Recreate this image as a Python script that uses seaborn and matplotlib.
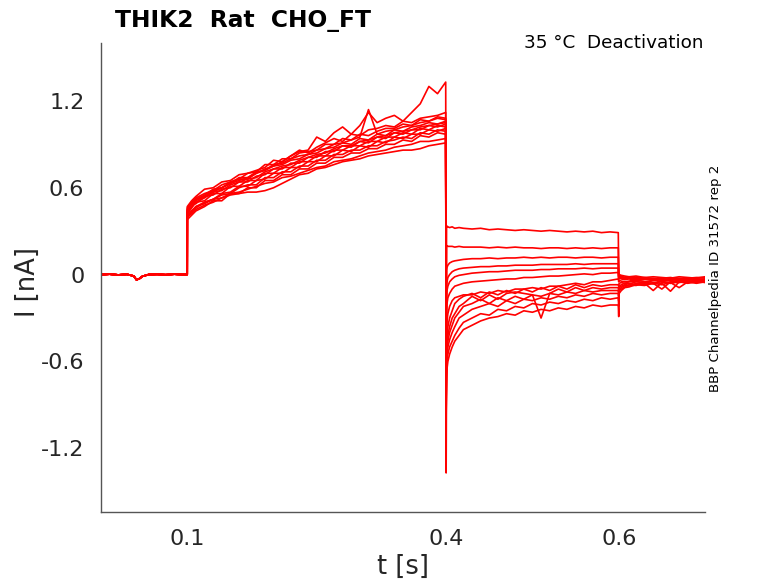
#Librerias
import pandas as pd
import matplotlib
matplotlib.use("Agg")
import matplotlib.pyplot as plt
import seaborn as sns

#Datos (corriente en nA, tiempo en s)
t_hold = [0.0, 0.01, 0.02, 0.03, 0.038, 0.041, 0.044, 0.048, 0.055, 0.065, 0.075, 0.085, 0.095, 0.0999]
i_hold = [0.0, 0.003, -0.002, 0.002, -0.01, -0.035, -0.03, -0.012, 0.0, 0.002, -0.001, 0.003, 0.0, 0.001]

t_act = [0.1, 0.105, 0.11, 0.12, 0.13, 0.14, 0.15, 0.16, 0.17, 0.18, 0.19, 0.2, 0.21, 0.22, 0.23, 0.24,
         0.25, 0.26, 0.27, 0.28, 0.29, 0.3, 0.31, 0.32, 0.33, 0.34, 0.35, 0.36, 0.37, 0.38, 0.39, 0.3995]
i_act = [
    [0.45, 0.49, 0.52, 0.55, 0.59, 0.60, 0.64, 0.66, 0.66, 0.70, 0.72, 0.75, 0.76, 0.79, 0.80, 0.83, 0.84, 0.87, 0.88, 0.91, 0.90, 0.94, 0.93, 0.97, 0.96, 1.00, 0.99, 1.02, 1.03, 1.05, 1.04, 1.06],
    [0.40, 0.43, 0.47, 0.50, 0.52, 0.56, 0.57, 0.61, 0.61, 0.65, 0.66, 0.70, 0.70, 0.74, 0.74, 0.78, 0.78, 0.82, 0.82, 0.86, 0.85, 0.89, 0.88, 0.92, 0.91, 0.95, 0.94, 0.97, 0.97, 1.00, 0.99, 1.01],
    [0.47, 0.51, 0.54, 0.59, 0.60, 0.64, 0.65, 0.69, 0.70, 0.71, 0.76, 0.76, 0.80, 0.80, 0.84, 0.85, 0.86, 0.90, 0.90, 0.94, 0.93, 0.97, 0.96, 0.99, 1.01, 1.01, 1.04, 1.03, 1.07, 1.06, 1.09, 1.08],
    [0.38, 0.41, 0.44, 0.47, 0.51, 0.51, 0.56, 0.56, 0.60, 0.60, 0.65, 0.65, 0.69, 0.69, 0.73, 0.73, 0.77, 0.77, 0.81, 0.81, 0.84, 0.84, 0.87, 0.87, 0.90, 0.90, 0.93, 0.92, 0.96, 0.95, 0.98, 0.97],
    [0.42, 0.46, 0.50, 0.51, 0.56, 0.56, 0.61, 0.61, 0.65, 0.65, 0.70, 0.70, 0.74, 0.74, 0.78, 0.78, 0.82, 0.82, 0.86, 0.86, 0.89, 0.89, 0.92, 0.92, 0.95, 0.95, 0.98, 0.97, 1.01, 1.00, 1.03, 1.02],
    [0.44, 0.48, 0.51, 0.54, 0.57, 0.60, 0.63, 0.65, 0.67, 0.70, 0.73, 0.75, 0.78, 0.82, 0.85, 0.86, 0.95, 0.92, 0.98, 1.02, 0.97, 1.03, 1.12, 1.05, 1.08, 1.10, 1.06, 1.12, 1.18, 1.30, 1.25, 1.33],
    [0.40, 0.42, 0.45, 0.48, 0.50, 0.53, 0.55, 0.56, 0.57, 0.57, 0.58, 0.60, 0.63, 0.66, 0.69, 0.70, 0.73, 0.74, 0.76, 0.78, 0.79, 0.80, 0.82, 0.83, 0.84, 0.85, 0.86, 0.86, 0.87, 0.89, 0.90, 0.91],
    [0.46, 0.50, 0.53, 0.56, 0.58, 0.62, 0.64, 0.66, 0.70, 0.72, 0.74, 0.79, 0.78, 0.82, 0.86, 0.84, 0.88, 0.91, 0.94, 0.92, 0.97, 0.96, 1.00, 1.01, 1.03, 1.02, 1.06, 1.05, 1.08, 1.09, 1.10, 1.12],
    [0.39, 0.44, 0.46, 0.50, 0.52, 0.55, 0.56, 0.60, 0.62, 0.62, 0.67, 0.67, 0.71, 0.71, 0.75, 0.75, 0.79, 0.79, 0.83, 0.83, 0.86, 0.86, 0.89, 0.89, 0.92, 0.93, 0.95, 0.94, 0.98, 0.97, 1.00, 0.99],
    [0.43, 0.48, 0.49, 0.54, 0.55, 0.59, 0.60, 0.64, 0.64, 0.68, 0.69, 0.73, 0.73, 0.77, 0.77, 0.81, 0.81, 0.85, 0.85, 0.89, 0.88, 0.92, 0.91, 0.95, 0.94, 0.98, 0.97, 1.00, 1.00, 1.03, 1.02, 1.04],
    [0.41, 0.44, 0.47, 0.49, 0.52, 0.53, 0.56, 0.57, 0.59, 0.61, 0.63, 0.64, 0.67, 0.68, 0.70, 0.72, 0.74, 0.75, 0.78, 0.79, 0.80, 0.82, 0.84, 0.85, 0.86, 0.88, 0.89, 0.90, 0.92, 0.92, 0.93, 0.94],
    [0.44, 0.47, 0.52, 0.54, 0.58, 0.60, 0.63, 0.67, 0.67, 0.71, 0.72, 0.76, 0.77, 0.80, 0.82, 0.83, 0.86, 0.87, 0.90, 0.91, 0.93, 0.95, 1.14, 0.97, 0.99, 1.00, 1.02, 1.03, 1.05, 1.06, 1.08, 1.07],
    [0.42, 0.47, 0.50, 0.53, 0.57, 0.58, 0.62, 0.64, 0.66, 0.67, 0.71, 0.73, 0.75, 0.76, 0.79, 0.81, 0.83, 0.84, 0.87, 0.89, 0.89, 0.92, 0.93, 0.95, 0.96, 0.98, 0.99, 1.00, 1.02, 1.03, 1.04, 1.05],
]

t_deact = [0.4, 0.4005, 0.401, 0.402, 0.404, 0.407, 0.41, 0.415, 0.42, 0.43, 0.44, 0.45, 0.46, 0.47,
           0.48, 0.49, 0.5, 0.51, 0.52, 0.53, 0.54, 0.55, 0.56, 0.57, 0.58, 0.59, 0.5995]
i_deact = [
    [-0.3, 0.33, 0.335, 0.33, 0.325, 0.33, 0.32, 0.325, 0.32, 0.315, 0.32, 0.31, 0.315, 0.31, 0.305, 0.31, 0.305, 0.30, 0.305, 0.30, 0.295, 0.30, 0.295, 0.30, 0.29, 0.295, 0.29],
    [-0.5, 0.20, 0.20, 0.195, 0.195, 0.195, 0.19, 0.195, 0.19, 0.19, 0.19, 0.185, 0.19, 0.185, 0.19, 0.185, 0.185, 0.18, 0.185, 0.185, 0.18, 0.185, 0.18, 0.185, 0.18, 0.185, 0.185],
    [-0.6, 0.03, 0.05, 0.065, 0.08, 0.09, 0.095, 0.10, 0.105, 0.11, 0.11, 0.115, 0.11, 0.115, 0.115, 0.12, 0.115, 0.12, 0.115, 0.12, 0.12, 0.115, 0.12, 0.12, 0.115, 0.12, 0.12],
    [-0.7, -0.08, -0.05, -0.02, 0.0, 0.02, 0.03, 0.04, 0.045, 0.05, 0.055, 0.055, 0.06, 0.06, 0.065, 0.065, 0.065, 0.07, 0.07, 0.07, 0.07, 0.075, 0.07, 0.075, 0.075, 0.075, 0.075],
    [-0.75, -0.15, -0.11, -0.08, -0.05, -0.03, -0.015, -0.005, 0.0, 0.01, 0.015, 0.02, 0.02, 0.025, 0.03, 0.03, 0.03, 0.035, 0.035, 0.04, 0.04, 0.04, 0.045, 0.04, 0.045, 0.045, 0.045],
    [-0.8, -0.25, -0.2, -0.16, -0.13, -0.1, -0.08, -0.07, -0.06, -0.05, -0.045, -0.04, -0.035, -0.03, -0.03, -0.02, -0.02, -0.015, -0.01, -0.01, -0.005, 0.0, 0.005, 0.0, 0.01, 0.01, 0.015],
    [-0.9, -0.38, -0.32, -0.27, -0.22, -0.18, -0.16, -0.15, -0.14, -0.14, -0.12, -0.13, -0.11, -0.12, -0.10, -0.10, -0.09, -0.10, -0.08, -0.08, -0.07, -0.06, -0.07, -0.05, -0.05, -0.04, -0.03],
    [-0.95, -0.5, -0.42, -0.36, -0.3, -0.25, -0.2, -0.17, -0.15, -0.13, -0.16, -0.12, -0.14, -0.11, -0.13, -0.10, -0.12, -0.09, -0.11, -0.08, -0.10, -0.07, -0.09, -0.07, -0.08, -0.07, -0.07],
    [-1.0, -0.55, -0.48, -0.42, -0.36, -0.3, -0.27, -0.22, -0.2, -0.15, -0.18, -0.14, -0.17, -0.13, -0.12, -0.13, -0.14, -0.30, -0.13, -0.1, -0.12, -0.09, -0.11, -0.09, -0.1, -0.09, -0.09],
    [-1.37, -0.6, -0.52, -0.46, -0.4, -0.35, -0.3, -0.26, -0.22, -0.2, -0.17, -0.2, -0.16, -0.18, -0.15, -0.17, -0.14, -0.15, -0.13, -0.14, -0.12, -0.13, -0.11, -0.12, -0.11, -0.11, -0.11],
    [-0.75, -0.62, -0.56, -0.5, -0.45, -0.4, -0.36, -0.3, -0.28, -0.24, -0.22, -0.2, -0.22, -0.18, -0.2, -0.17, -0.18, -0.16, -0.17, -0.15, -0.16, -0.14, -0.15, -0.13, -0.14, -0.13, -0.13],
    [-0.85, -0.66, -0.6, -0.55, -0.5, -0.46, -0.42, -0.37, -0.33, -0.3, -0.27, -0.28, -0.24, -0.25, -0.22, -0.23, -0.2, -0.21, -0.19, -0.2, -0.18, -0.19, -0.17, -0.18, -0.16, -0.17, -0.16],
    [-0.95, -0.7, -0.65, -0.6, -0.55, -0.5, -0.46, -0.42, -0.38, -0.35, -0.32, -0.3, -0.29, -0.27, -0.28, -0.25, -0.26, -0.24, -0.25, -0.23, -0.24, -0.22, -0.23, -0.21, -0.22, -0.21, -0.21],
]

t_post = [0.6, 0.6005, 0.603, 0.607, 0.612, 0.62, 0.63, 0.64, 0.65, 0.66, 0.67, 0.68, 0.69, 0.7]
i_post = [
    [0.01, 0.0, -0.005, -0.01, -0.015, -0.01, -0.02, -0.015, -0.02, -0.025, -0.015, -0.02, -0.025, -0.015],
    [-0.01, -0.005, -0.01, -0.02, -0.015, -0.025, -0.02, -0.03, -0.025, -0.02, -0.03, -0.025, -0.02, -0.02],
    [-0.02, -0.01, -0.015, -0.02, -0.025, -0.02, -0.03, -0.025, -0.035, -0.03, -0.025, -0.03, -0.035, -0.03],
    [-0.02, -0.015, -0.02, -0.025, -0.02, -0.03, -0.025, -0.035, -0.03, -0.04, -0.03, -0.035, -0.03, -0.035],
    [-0.03, -0.02, -0.025, -0.03, -0.025, -0.035, -0.03, -0.04, -0.03, -0.035, -0.04, -0.03, -0.035, -0.03],
    [-0.03, -0.025, -0.03, -0.035, -0.03, -0.04, -0.035, -0.03, -0.04, -0.035, -0.03, -0.04, -0.03, -0.04],
    [-0.05, -0.04, -0.045, -0.05, -0.045, -0.035, -0.05, -0.04, -0.035, -0.045, -0.05, -0.035, -0.04, -0.045],
    [-0.08, -0.06, -0.055, -0.06, -0.05, -0.045, -0.06, -0.04, -0.05, -0.055, -0.04, -0.05, -0.04, -0.05],
    [-0.12, -0.08, -0.07, -0.06, -0.065, -0.05, -0.055, -0.065, -0.045, -0.06, -0.045, -0.055, -0.045, -0.05],
    [-0.15, -0.09, -0.08, -0.07, -0.06, -0.07, -0.055, -0.06, -0.1, -0.05, -0.055, -0.045, -0.055, -0.045],
    [-0.18, -0.1, -0.09, -0.075, -0.08, -0.06, -0.07, -0.055, -0.06, -0.115, -0.05, -0.055, -0.045, -0.055],
    [-0.22, -0.11, -0.1, -0.085, -0.07, -0.075, -0.06, -0.11, -0.055, -0.06, -0.05, -0.06, -0.05, -0.045],
    [-0.29, -0.13, -0.11, -0.09, -0.085, -0.07, -0.075, -0.06, -0.07, -0.055, -0.09, -0.05, -0.06, -0.05],
]

x_ticks = [0.1, 0.4, 0.6]
x_labels = ["0.1", "0.4", "0.6"]
y_ticks = [-1.2, -0.6, 0, 0.6, 1.2]
y_labels = ["-1.2", "-0.6", "0", "0.6", "1.2"]

#Armamos la tabla larga, un barrido por "trace"
filas = []
for k in range(len(i_act)):
    tt = t_hold + t_act + t_deact + t_post
    ii = i_hold + i_act[k] + i_deact[k] + i_post[k]
    for a, b in zip(tt, ii):
        filas.append({"trace": k, "t": a, "I": b})
df = pd.DataFrame(filas)

#Grafico
sns.set_theme(style="white")
plt.rcParams["font.family"] = ["DejaVu Sans"]
fig = plt.figure(figsize=(7.78, 5.83), dpi=100)
ax = fig.add_axes([101 / 778, 1 - 512 / 583, 604 / 778, 469 / 583])

sns.lineplot(data=df, x="t", y="I", units="trace", estimator=None, sort=False,
             color="#ff0000", linewidth=1.2, ax=ax)

ax.set_xlim(0.0, 0.7)
ax.set_ylim(-1.64, 1.6)
ax.set_xticks(x_ticks)
ax.set_xticklabels(x_labels)
ax.set_yticks(y_ticks)
ax.set_yticklabels(y_labels)

for s in ["top", "right"]:
    ax.spines[s].set_visible(False)
for s in ["left", "bottom"]:
    ax.spines[s].set_color("#555555")
    ax.spines[s].set_linewidth(1.0)
ax.tick_params(direction="in", length=6, width=1, color="#555555",
               labelsize=16, labelcolor="#262626", pad=12)

ax.set_xlabel("t [s]", fontsize=18.5, color="#262626", labelpad=4)
ax.set_ylabel("I [nA]", fontsize=18.5, color="#262626")
ax.yaxis.set_label_coords(-0.1, 0.49)

fig.text(115 / 778, 1 - 27 / 583, "THIK2  Rat  CHO_FT", fontsize=16.8,
         fontweight="bold", color="black", ha="left", va="baseline")
fig.text(703 / 778, 1 - 48 / 583, "35 °C  Deactivation", fontsize=13.2,
         color="black", ha="right", va="baseline")
fig.text(716 / 778, 1 - 278 / 583, "BBP Channelpedia ID 31572 rep 2", fontsize=9.6,
         color="black", rotation=90, ha="center", va="center")

fig.savefig("out.png", dpi=100)
plt.close(fig)
